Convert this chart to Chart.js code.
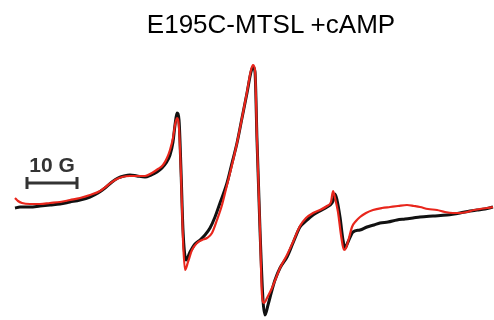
<!DOCTYPE html>
<html>
<head>
<meta charset="utf-8">
<script src="https://cdn.jsdelivr.net/npm/chart.js@4.4.0/dist/chart.umd.min.js"></script>
<style>
  html, body { margin: 0; padding: 0; background: #fff; }
  #wrap { position: relative; width: 494px; height: 320px; }
  #title {
    position: absolute; left: 24px; top: 9px; width: 494px;
    text-align: center; font: 26px "Liberation Sans", Arial, sans-serif;
    line-height: 30px; color: #000;
  }
  canvas { position: absolute; left: 0; top: 0; }
</style>
</head>
<body>
<div id="wrap">
  <canvas id="epr" width="494" height="320"></canvas>
  <div id="title">E195C-MTSL +cAMP</div>
</div>
<script>
  // ---- Data (field in G, signal in arbitrary units) ----
  const fieldApo = [3,4,6,8,10,12,14,16,18,19.6, 21,22.4,23.6,24.8,26,27.4,29,30.2,31.4,32.4,
    33.2,34,34.6,35,35.4,35.8,36.2,36.6,37.2,38, 39,40,41,42,43,44,45.4,46.4,47.4,48.4,
    49.4,50.2,50.6,51,51.4,52,52.6,53,53.6,54.4, 55,56,57.4,58.6,60,61.2,62.6,64,65.4,66.4,
    66.8,67,67.4,68,68.6,69,69.6,70.6,72,73.4, 74.8,76,77.6,79.4,81,82.6,84,86.6,89.4,92,
    94,95.4,97,98.6];
  const signalApo = [2,3,3,4,5,6,8,10,13,17, 22,28,32,34,35,34,33,35,38,42,
    47,55,68,85,97,90,40,-20,-50,-42, -34,-30,-25,-18,-7,7,27,47,67,92,
    117,138,143,138,70,-20,-90,-105,-95,-80, -70,-58,-47,-33,-17,-11,-5,-1,3,7,
    12,16,10,-7,-30,-38,-32,-22,-20,-17, -15,-13,-12,-10,-9,-8,-7,-6,-5,-3,
    -1,0,1,3];

  const fieldCamp = [3,3.6,4.4,6,8,10,12,14,16,18, 20,21.6,23,24.4,26,27.4,29,30.4,31.6,32.6,
    33.4,34,34.6,35,35.4,35.8,36.2,36.6,37,37.6, 38.4,39.4,40.4,41.4,42.4,43.4,44.4,45.4,46.4,47.4,
    48.4,49.4,50.2,50.6,51,51.4,52,52.4,52.8,53.4, 54.4,55.2,56,57.4,58.6,60,61.2,62.6,64,65.4,
    66.2,66.6,67,67.6,68.2,68.8,69.2,69.8,70.4,71.2, 72,73.2,74.6,76.4,78,79.6,81.4,82.8,84,85.6,
    87.4,89,90.6,92,93.4,94.8,96,97.4,98.6];
  const signalCamp = [12,9,7,6,6,7,8,10,12,15, 19,25,30,33,34,34,34,37,41,45,
    52,60,72,85,92,82,35,-30,-60,-52, -40,-33,-30,-28,-23,-10,5,25,45,67,
    92,118,140,145,140,70,-20,-85,-93,-88, -78,-68,-58,-45,-32,-16,-8,-3,0,4,
    8,19,12,-2,-25,-40,-38,-28,-17,-11, -7,-3,0,2,3,4,5,4,3,1,
    0,-2,-3,-3,-2,0,1,2,3];

  const scaleBarStart = 5.4;   // G
  const scaleBarLength = 10;   // G
  const scaleBarLevel = 27;    // signal units
  const scaleBarLabel = '10 G';

  const toPoints = (xs, ys) => xs.map((x, i) => ({ x, y: ys[i] }));

  // ---- Scale bar drawn in data units ----
  const scaleBar = {
    id: 'scaleBar',
    afterDatasetsDraw(chart) {
      const { ctx, scales: { x, y } } = chart;
      const x0 = x.getPixelForValue(scaleBarStart);
      const x1 = x.getPixelForValue(scaleBarStart + scaleBarLength);
      const yy = y.getPixelForValue(scaleBarLevel);
      ctx.save();
      ctx.strokeStyle = '#333';
      ctx.lineWidth = 3;
      ctx.beginPath();
      ctx.moveTo(x0, yy); ctx.lineTo(x1, yy);
      ctx.moveTo(x0, yy - 6); ctx.lineTo(x0, yy + 6);
      ctx.moveTo(x1, yy - 6); ctx.lineTo(x1, yy + 6);
      ctx.stroke();
      ctx.fillStyle = '#333';
      ctx.font = 'bold 21px "Liberation Sans", Arial, sans-serif';
      ctx.textAlign = 'center';
      ctx.textBaseline = 'alphabetic';
      ctx.fillText(scaleBarLabel, (x0 + x1) / 2, yy - 11);
      ctx.restore();
    }
  };

  new Chart(document.getElementById('epr'), {
    type: 'line',
    data: {
      datasets: [{
        label: '+cAMP',
        data: toPoints(fieldCamp, signalCamp),
        borderColor: '#e8261c',
        borderWidth: 2.2,
        pointRadius: 0,
        cubicInterpolationMode: 'monotone',
        fill: false
      }, {
        label: 'apo',
        data: toPoints(fieldApo, signalApo),
        borderColor: '#111',
        borderWidth: 3,
        pointRadius: 0,
        cubicInterpolationMode: 'monotone',
        fill: false
      }]
    },
    options: {
      responsive: false,
      animation: false,
      layout: { padding: 0 },
      plugins: { legend: { display: false }, tooltip: { enabled: false } },
      scales: {
        x: { type: 'linear', min: 0, max: 98.8, display: false },
        y: { min: -110, max: 210, display: false }
      }
    },
    plugins: [scaleBar]
  });
</script>
</body>
</html>
